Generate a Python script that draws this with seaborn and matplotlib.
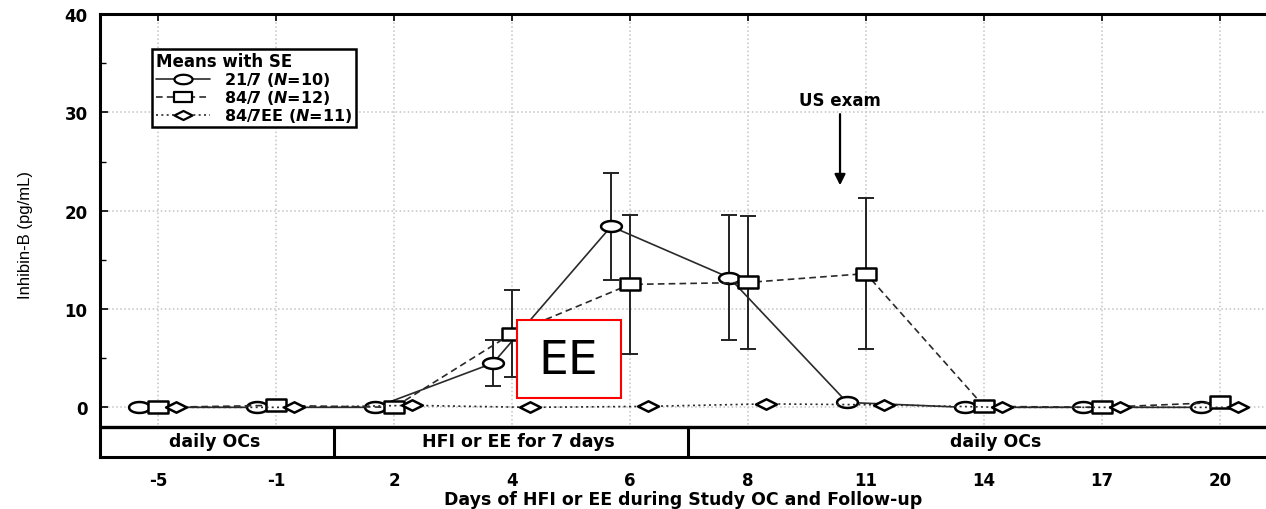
import numpy as np
import pandas as pd
import matplotlib
matplotlib.use("Agg")
import matplotlib.pyplot as plt
import seaborn as sns
from matplotlib.path import Path
from matplotlib.patches import Rectangle
from matplotlib.lines import Line2D

# ---------------- data ----------------
days = ["-5", "-1", "2", "4", "6", "8", "11", "14", "17", "20"]
oc21_mean = [0.0, 0.0, 0.0, 4.5, 18.4, 13.2, 0.5, 0.0, 0.0, 0.0]
oc21_se = [0.0, 0.0, 0.0, 2.35, 5.45, 6.35, 0.0, 0.0, 0.0, 0.0]
oc84_mean = [0.0, 0.2, 0.0, 7.5, 12.5, 12.7, 13.6, 0.1, 0.0, 0.5]
oc84_se = [0.0, 0.0, 0.0, 4.4, 7.05, 6.8, 7.65, 0.0, 0.0, 0.0]
ee_mean = [0.0, 0.0, 0.2, 0.0, 0.1, 0.35, 0.25, 0.0, 0.0, 0.0]
ee_se = [0.0] * 10
series_names = ["21/7 ($\\mathit{N}$=10)", "84/7 ($\\mathit{N}$=12)", "84/7EE ($\\mathit{N}$=11)"]
band_labels = ["daily OCs", "HFI or EE for 7 days", "daily OCs"]

# ---------------- style ----------------
sns.set_style("white")
plt.rcParams["font.family"] = ["DejaVu Sans"]
plt.rcParams["mathtext.fontset"] = "custom"
plt.rcParams["mathtext.it"] = "DejaVu Sans:italic:bold"
plt.rcParams["mathtext.rm"] = "DejaVu Sans:bold"
for key in ["text.color", "axes.labelcolor", "xtick.color", "ytick.color", "axes.edgecolor"]:
    plt.rcParams[key] = "black"

def ellipse_path(w=2.0, h=1.0, n=40):
    t = np.linspace(0, 2 * np.pi, n)
    verts = np.column_stack([w / 2 * np.cos(t), h / 2 * np.sin(t)])
    return Path(verts, closed=True)

def rect_path(w=1.8, h=1.0):
    verts = [(-w / 2, -h / 2), (w / 2, -h / 2), (w / 2, h / 2), (-w / 2, h / 2), (-w / 2, -h / 2)]
    return Path(verts, closed=True)

def diamond_path(w=2.0, h=1.0):
    verts = [(0, -h / 2), (w / 2, 0), (0, h / 2), (-w / 2, 0), (0, -h / 2)]
    return Path(verts, closed=True)

m_circle = ellipse_path(2.0, 1.05)
m_square = rect_path(1.8, 1.0)
m_diamond = diamond_path(2.0, 1.0)

offsets = [-0.16, 0.0, 0.15]
markers = [m_circle, m_square, m_diamond]
linestyles = ["-", (0, (4, 2.5)), (0, (1.2, 2))]
means = [oc21_mean, oc84_mean, ee_mean]
ses = [oc21_se, oc84_se, ee_se]

frames = []
for name, mean, se, off in zip(series_names, means, ses, offsets):
    frames.append(pd.DataFrame({
        "pos": np.arange(len(days)) + off,
        "mean": mean,
        "se": se,
        "group": name,
    }))
df = pd.concat(frames, ignore_index=True)

fig = plt.figure(figsize=(12.66, 5.10), dpi=100)
ax = fig.add_axes([100 / 1266, 52 / 510, 1166 / 1266, 443 / 510])

# grid
ax.set_axisbelow(True)
ax.grid(True, which="major", color="#c4c4c4", linestyle=":", linewidth=1.1)

# error bars
for name in series_names:
    sub = df[(df["group"] == name) & (df["se"] > 0)]
    if len(sub):
        ax.errorbar(sub["pos"], sub["mean"], yerr=sub["se"], fmt="none",
                    ecolor="#222222", elinewidth=1.4, capsize=6, capthick=1.4, zorder=3)

# lines + markers
for name, mk, ls in zip(series_names, markers, linestyles):
    sub = df[df["group"] == name]
    sns.lineplot(data=sub, x="pos", y="mean", ax=ax, color="#2a2a2a", linewidth=1.2,
                 linestyle=ls, marker=mk, markersize=15, markerfacecolor="white",
                 markeredgecolor="black", markeredgewidth=1.8, sort=False,
                 legend=False, errorbar=None, zorder=4)

# axes limits / ticks
ax.set_xlim(-0.4915, 9.39)
ax.set_ylim(-5.05, 40)
ax.set_xticks(np.arange(len(days)))
ax.set_xticklabels(days)
ax.set_yticks([0, 10, 20, 30, 40])
ax.set_yticks([5, 15, 25, 35], minor=True)
ax.tick_params(axis="x", which="major", direction="in", top=True, bottom=False,
               labelbottom=True, length=5, width=1.2, pad=10, labelsize=12)
ax.tick_params(axis="y", which="major", direction="in", left=True, length=6, width=1.2,
               pad=9, labelsize=12)
ax.tick_params(axis="y", which="minor", direction="in", left=True, length=4, width=1.0)
for lab in ax.get_xticklabels() + ax.get_yticklabels():
    lab.set_fontweight("bold")

for side in ["left", "top", "bottom"]:
    ax.spines[side].set_linewidth(2.2)
    ax.spines[side].set_color("black")
ax.spines["right"].set_visible(False)

# bottom band
ax.axhline(-2.0, color="black", linewidth=2.4, zorder=5)
ax.plot([1.49, 1.49], [-5.05, -2.0], color="black", linewidth=2.2, zorder=5)
ax.plot([4.49, 4.49], [-5.05, -2.0], color="black", linewidth=2.2, zorder=5)
ax.add_patch(Rectangle((-0.5, -5.05), 10.5, 3.05, facecolor="white", edgecolor="none", zorder=2))
for xc, txt in zip([0.48, 3.05, 7.1], band_labels):
    ax.text(xc, -3.45, txt, ha="center", va="center", fontsize=12.5, fontweight="bold", zorder=6)

# labels
ax.set_xlabel("Days of HFI or EE during Study OC and Follow-up", fontsize=12.5,
              fontweight="bold", labelpad=1)
ax.set_ylabel("Inhibin-B (pg/mL)", fontsize=12, family=["Liberation Sans"])
ax.yaxis.set_label_coords(-0.0575, 0.503)

# US exam annotation
ax.text(5.78, 31.3, "US exam", ha="center", va="center", fontsize=12, fontweight="bold")
ax.annotate("", xy=(5.78, 22.3), xytext=(5.78, 30.1),
            arrowprops=dict(arrowstyle="-|>", color="black", lw=1.6, mutation_scale=16))

# red EE box
ax.add_patch(Rectangle((3.04, 0.95), 0.88, 7.9, facecolor="white", edgecolor="red",
                       linewidth=1.5, zorder=7))
ax.text(3.48, 4.75, "EE", ha="center", va="center", fontsize=34, zorder=8)

# legend
handles = [Line2D([0], [0], color="#2a2a2a", linestyle=ls, linewidth=1.2, marker=mk,
                  markersize=13, markerfacecolor="white", markeredgecolor="black",
                  markeredgewidth=1.6)
           for mk, ls in zip(markers, linestyles)]
leg = ax.legend(handles, series_names, title="Means with SE", loc="upper left",
                bbox_to_anchor=(0.045, 0.921), borderaxespad=0, frameon=True,
                fancybox=False, edgecolor="black", framealpha=1, fontsize=11.5,
                title_fontproperties={"weight": "bold", "size": 12},
                alignment="left", labelspacing=0.0, handlelength=3.4,
                handletextpad=0.9, borderpad=0.2)
leg.get_frame().set_linewidth(1.8)
for t in leg.get_texts():
    t.set_fontweight("bold")

fig.savefig("out.png", dpi=100)
